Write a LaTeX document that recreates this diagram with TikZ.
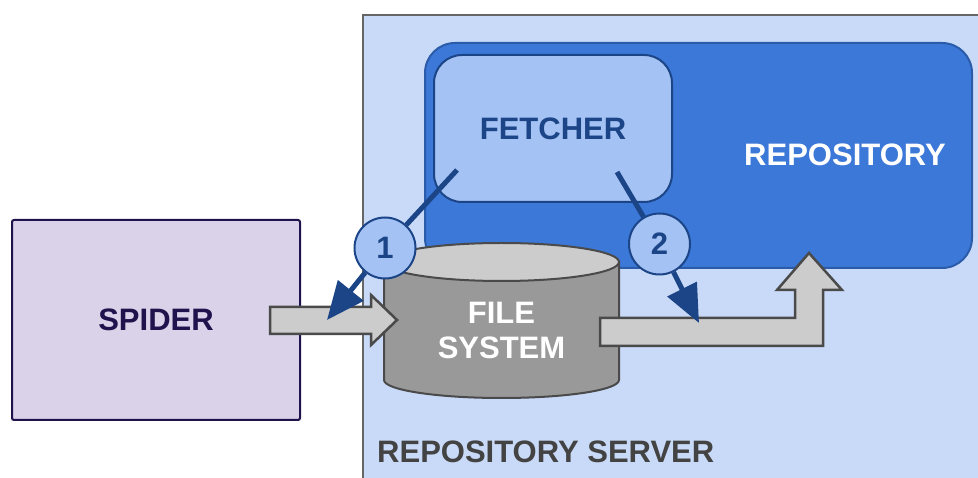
\documentclass[tikz,border=0pt]{standalone}
\usepackage{fontspec}
\setmainfont{Liberation Sans}
\usetikzlibrary{arrows.meta}

\definecolor{serverbg}{HTML}{C9DAF8}
\definecolor{serverln}{HTML}{666666}
\definecolor{repobg}{HTML}{3C78D8}
\definecolor{repoln}{HTML}{2A5CAA}
\definecolor{fetchbg}{HTML}{A4C2F4}
\definecolor{darkblue}{HTML}{1C4587}
\definecolor{spiderbg}{HTML}{D9D2E9}
\definecolor{darkpurple}{HTML}{20124D}
\definecolor{diskbody}{HTML}{999999}
\definecolor{disktop}{HTML}{CCCCCC}
\definecolor{edgegray}{HTML}{4A4A4A}
\definecolor{labelgray}{HTML}{434343}

\tikzset{
  bigfont/.style={font=\fontsize{31}{35}\selectfont\bfseries},
  box/.style={rectangle, line width=2pt, inner sep=0pt, bigfont},
  blockarrow/.style={fill=disktop, draw=edgegray, line width=2.5pt, line join=miter},
  link/.style={draw=darkblue, line width=5pt},
  numdot/.style={circle, minimum size=61pt, inner sep=0pt, fill=fetchbg,
    draw=darkblue, line width=2pt, text=darkblue, bigfont}
}

\begin{document}
\begin{tikzpicture}[x=1pt,y=-1pt]
\useasboundingbox (0,0) rectangle (978,478);

% server area, running off the right and bottom
\fill[serverbg] (363,15) rectangle (978,478);
\draw[serverln, line width=2pt] (363,478) -- (363,15) -- (978,15);
\node[anchor=base west, inner sep=0pt, bigfont, text=labelgray] (srvlbl) at (377,462) {REPOSITORY SERVER};

% repository and fetcher
\node[box, rounded corners=30pt, fill=repobg, draw=repoln,
  minimum width=547pt, minimum height=225pt] (repo) at (698.5,155.5) {};
\node[bigfont, text=white] (repolbl) at (845,155) {REPOSITORY};
\node[box, rounded corners=28pt, fill=fetchbg, draw=darkblue, text=darkblue,
  minimum width=238pt, minimum height=147pt] (fetch) at (553,128.5) {FETCHER};

% spider
\node[box, rounded corners=2pt, fill=spiderbg, draw=darkpurple, text=darkpurple,
  minimum width=288pt, minimum height=200pt] (spider) at (156,320) {SPIDER};

% file system drum
\filldraw[fill=diskbody, draw=edgegray, line width=2pt]
  (384,262) -- (384,380) arc[start angle=180, end angle=0, x radius=117.5, y radius=18]
  -- (619,262) -- cycle;
\filldraw[fill=disktop, draw=edgegray, line width=2pt]
  (501.5,262) ellipse[x radius=117.5, y radius=19];
\node[bigfont, text=white, align=center] (fs) at (501.5,330) {FILE\\SYSTEM};

% fat grey arrows
\path[blockarrow] (270,307) -- (371,307) -- (371,295) -- (397,320)
  -- (371,345) -- (371,334) -- (270,334) -- cycle;
\path[blockarrow] (600,318) -- (795,318) -- (795,290) -- (777,290) -- (809,253)
  -- (842,290) -- (823,290) -- (823,346) -- (600,346) -- cycle;

% numbered steps
\node[numdot] (n1) at (385,248) {1};
\node[numdot] (n2) at (659.5,244) {2};

\coordinate (f1) at (457,170);
\coordinate (t1) at (327,320);
\coordinate (f2) at (617,172);
\coordinate (t2) at (699,323);

\draw[link] (f1) -- (n1);
\draw[link, -{Triangle[length=38pt, width=32pt]}] (n1) -- (t1);
\draw[link] (f2) -- (n2);
\draw[link, -{Triangle[length=38pt, width=32pt]}] (n2) -- (t2);
\end{tikzpicture}
\end{document}
